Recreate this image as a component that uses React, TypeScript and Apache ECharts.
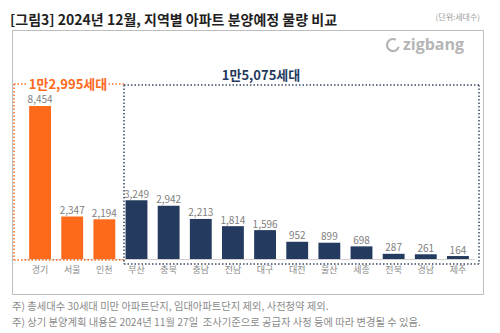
import React, { useEffect, useRef } from "react";
import * as echarts from "echarts";

const categories = ["경기", "서울", "인천", "부산", "충북", "충남", "전남", "대구", "대전", "울산", "세종", "전북", "경남", "제주"];
const values = [8454, 2347, 2194, 3249, 2942, 2213, 1814, 1596, 952, 899, 698, 287, 261, 164];
const metroCount = 3;
const title = "[그림3] 2024년 12월, 지역별 아파트 분양예정 물량 비교";
const unitText = "(단위:세대수)";
const metroLabel = "1만2,995세대";
const otherLabel = "1만5,075세대";
const notes = [
  "주) 총세대수 30세대 미만 아파트단지, 임대아파트단지 제외, 사전청약 제외.",
  "주) 상기 분양계획 내용은 2024년 11월 27일  조사기준으로 공급자 사정 등에 따라 변경될 수 있음.",
];

const ORANGE = "#FD6A1C";
const NAVY = "#243A5E";
const FONT = "'Noto Sans CJK KR', 'Noto Sans', sans-serif";

export default function App() {
  const ref = useRef<HTMLDivElement>(null);
  useEffect(() => {
    if (!ref.current) return;
    const chart = echarts.init(ref.current, null, { renderer: "svg" });
    const dotted = (color: string) => ({ stroke: color, lineWidth: 1.5, lineDash: [1.5, 2] });
    chart.setOption({
      animation: false,
      backgroundColor: "#fff",
      textStyle: { fontFamily: FONT },
      grid: { left: 24, right: 26, top: 78, bottom: 74 },
      xAxis: {
        type: "category",
        data: categories,
        axisTick: { show: false },
        axisLine: { lineStyle: { color: "#cfcfcf", width: 1 } },
        axisLabel: { color: "#8a8a8a", fontSize: 9, margin: 6, fontFamily: FONT },
      },
      yAxis: { type: "value", min: 0, max: 10000, show: false, splitLine: { show: false } },
      series: [
        {
          type: "bar",
          barWidth: "68%",
          data: values.map((v, i) => ({ value: v, itemStyle: { color: i < metroCount ? ORANGE : NAVY } })),
          label: {
            show: true,
            position: "top",
            distance: 2,
            color: "#808080",
            fontSize: 10,
            fontFamily: FONT,
            formatter: (p: any) => Number(p.value).toLocaleString("en-US"),
          },
        },
      ],
      graphic: [
        { type: "text", left: 10, top: 12, style: { text: title, fontSize: 14, fontWeight: "bold", fill: "#1f1f1f", fontFamily: FONT } },
        { type: "text", right: 20, top: 12, style: { text: unitText, fontSize: 8, fill: "#9a9a9a", fontFamily: FONT } },
        { type: "rect", shape: { x: 12.5, y: 30.5, width: 471, height: 264 }, style: { fill: "none", stroke: "#bdbdbd", lineWidth: 1 }, z: 0 },
        // zigbang logo
        { type: "arc", shape: { cx: 393, cy: 45, r: 6, startAngle: 0.3, endAngle: 5.2 }, style: { stroke: "#b5b5b5", lineWidth: 2.2, fill: "none" } },
        { type: "text", x: 403, y: 36, style: { text: "zigbang", fontSize: 16, fill: "#b5b5b5", fontFamily: "'Open Sans', sans-serif", fontWeight: "bold" } },
        // orange box
        { type: "line", shape: { x1: 14, y1: 84, x2: 124, y2: 84 }, style: dotted(ORANGE), z: 5 },
        { type: "line", shape: { x1: 14, y1: 84, x2: 14, y2: 260 }, style: dotted(ORANGE), z: 5 },
        { type: "line", shape: { x1: 14, y1: 260, x2: 124, y2: 260 }, style: dotted(ORANGE), z: 5 },
        // navy box
        { type: "line", shape: { x1: 124, y1: 85, x2: 479, y2: 85 }, style: dotted("#3a4b66"), z: 5 },
        { type: "line", shape: { x1: 124, y1: 85, x2: 124, y2: 264 }, style: dotted("#3a4b66"), z: 5 },
        { type: "line", shape: { x1: 479, y1: 85, x2: 479, y2: 264 }, style: dotted("#3a4b66"), z: 5 },
        { type: "line", shape: { x1: 124, y1: 264, x2: 479, y2: 264 }, style: dotted("#3a4b66"), z: 5 },
        {
          type: "text", x: 68, y: 83.5, z: 10,
          style: { text: metroLabel, fontSize: 13, lineHeight: 14, fontWeight: "bold", fill: ORANGE, align: "center", verticalAlign: "middle", backgroundColor: "#fff", padding: [0, 1], fontFamily: FONT },
        },
        {
          type: "text", x: 261, y: 74, z: 10,
          style: { text: otherLabel, fontSize: 13, fontWeight: "bold", fill: NAVY, align: "center", verticalAlign: "middle", fontFamily: FONT },
        },
        { type: "text", left: 12, top: 300, style: { text: notes[0], fontSize: 10.3, fill: "#8a8a8a", fontFamily: FONT } },
        { type: "text", left: 12, top: 316, style: { text: notes[1], fontSize: 10.3, fill: "#8a8a8a", fontFamily: FONT } },
      ],
    });
    return () => chart.dispose();
  }, []);
  return <div ref={ref} style={{ position: "fixed", left: 0, top: 0, width: 500, height: 333 }} />;
}
